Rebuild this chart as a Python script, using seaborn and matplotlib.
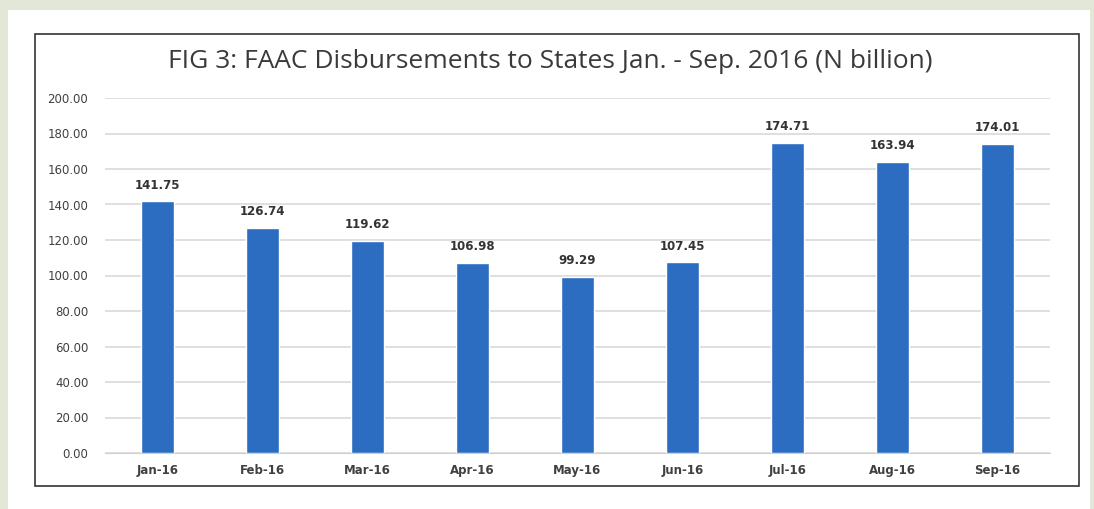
import matplotlib
matplotlib.use("Agg")
import matplotlib.pyplot as plt
import matplotlib.patches as mpatches
import pandas as pd
import seaborn as sns

# data
months = ["Jan-16", "Feb-16", "Mar-16", "Apr-16", "May-16",
          "Jun-16", "Jul-16", "Aug-16", "Sep-16"]
disbursements = [141.75, 126.74, 119.62, 106.98, 99.29,
                 107.45, 174.71, 163.94, 174.01]
y_ticks = [0, 20, 40, 60, 80, 100, 120, 140, 160, 180, 200]

df = pd.DataFrame({"month": months, "value": disbursements})

sns.set_style("white")
plt.rcParams["font.family"] = ["DejaVu Sans"]

fig = plt.figure(figsize=(10.94, 5.09), dpi=100, facecolor="#e2e7d8")

# white page and black chart frame
fig.patches.append(mpatches.Rectangle((8 / 1094, 0), 1082 / 1094, 1 - 10 / 509,
                                      transform=fig.transFigure, facecolor="white",
                                      edgecolor="none", zorder=0))
fig.patches.append(mpatches.Rectangle((35 / 1094, 1 - 486 / 509), 1044 / 1094, 452 / 509,
                                      transform=fig.transFigure, facecolor="white",
                                      edgecolor="#333333", linewidth=1.2, zorder=1))

ax = fig.add_axes([105 / 1094, 1 - 453 / 509, 945 / 1094, 355 / 509])
ax.set_zorder(5)
ax.set_facecolor("none")

sns.barplot(data=df, x="month", y="value", color="#2c6dc2", saturation=1,
            width=0.32, ax=ax, zorder=3)

ax.set_ylim(0, 200)
ax.set_yticks(y_ticks)
ax.set_yticklabels([f"{v:.2f}" for v in y_ticks], fontsize=8.5, color="#404040")
ax.tick_params(axis="x", labelsize=8.5, labelcolor="#404040", length=0, pad=8)
ax.tick_params(axis="y", length=0, pad=12)
for lbl in ax.get_xticklabels():
    lbl.set_fontweight("bold")
ax.yaxis.grid(True, color="#d9d9d9", linewidth=1.2, zorder=0)
ax.set_axisbelow(True)
ax.set_xlabel("")
ax.set_ylabel("")
for side in ["top", "right", "left"]:
    ax.spines[side].set_visible(False)
ax.spines["bottom"].set_color("#d0d0d0")

for i, v in enumerate(disbursements):
    ax.annotate(f"{v:.2f}", (i, v), xytext=(0, 7), textcoords="offset points",
                ha="center", va="bottom", fontsize=8.5, fontweight="bold",
                color="#333333")

fig.text(550 / 1094, 1 - 62 / 509, "FIG 3: FAAC Disbursements to States Jan. - Sep. 2016 (N billion)",
         ha="center", va="center", fontsize=19, color="#3a3a3a",
         family=["Open Sans", "DejaVu Sans"])

fig.savefig("out.png", dpi=100, facecolor=fig.get_facecolor())
